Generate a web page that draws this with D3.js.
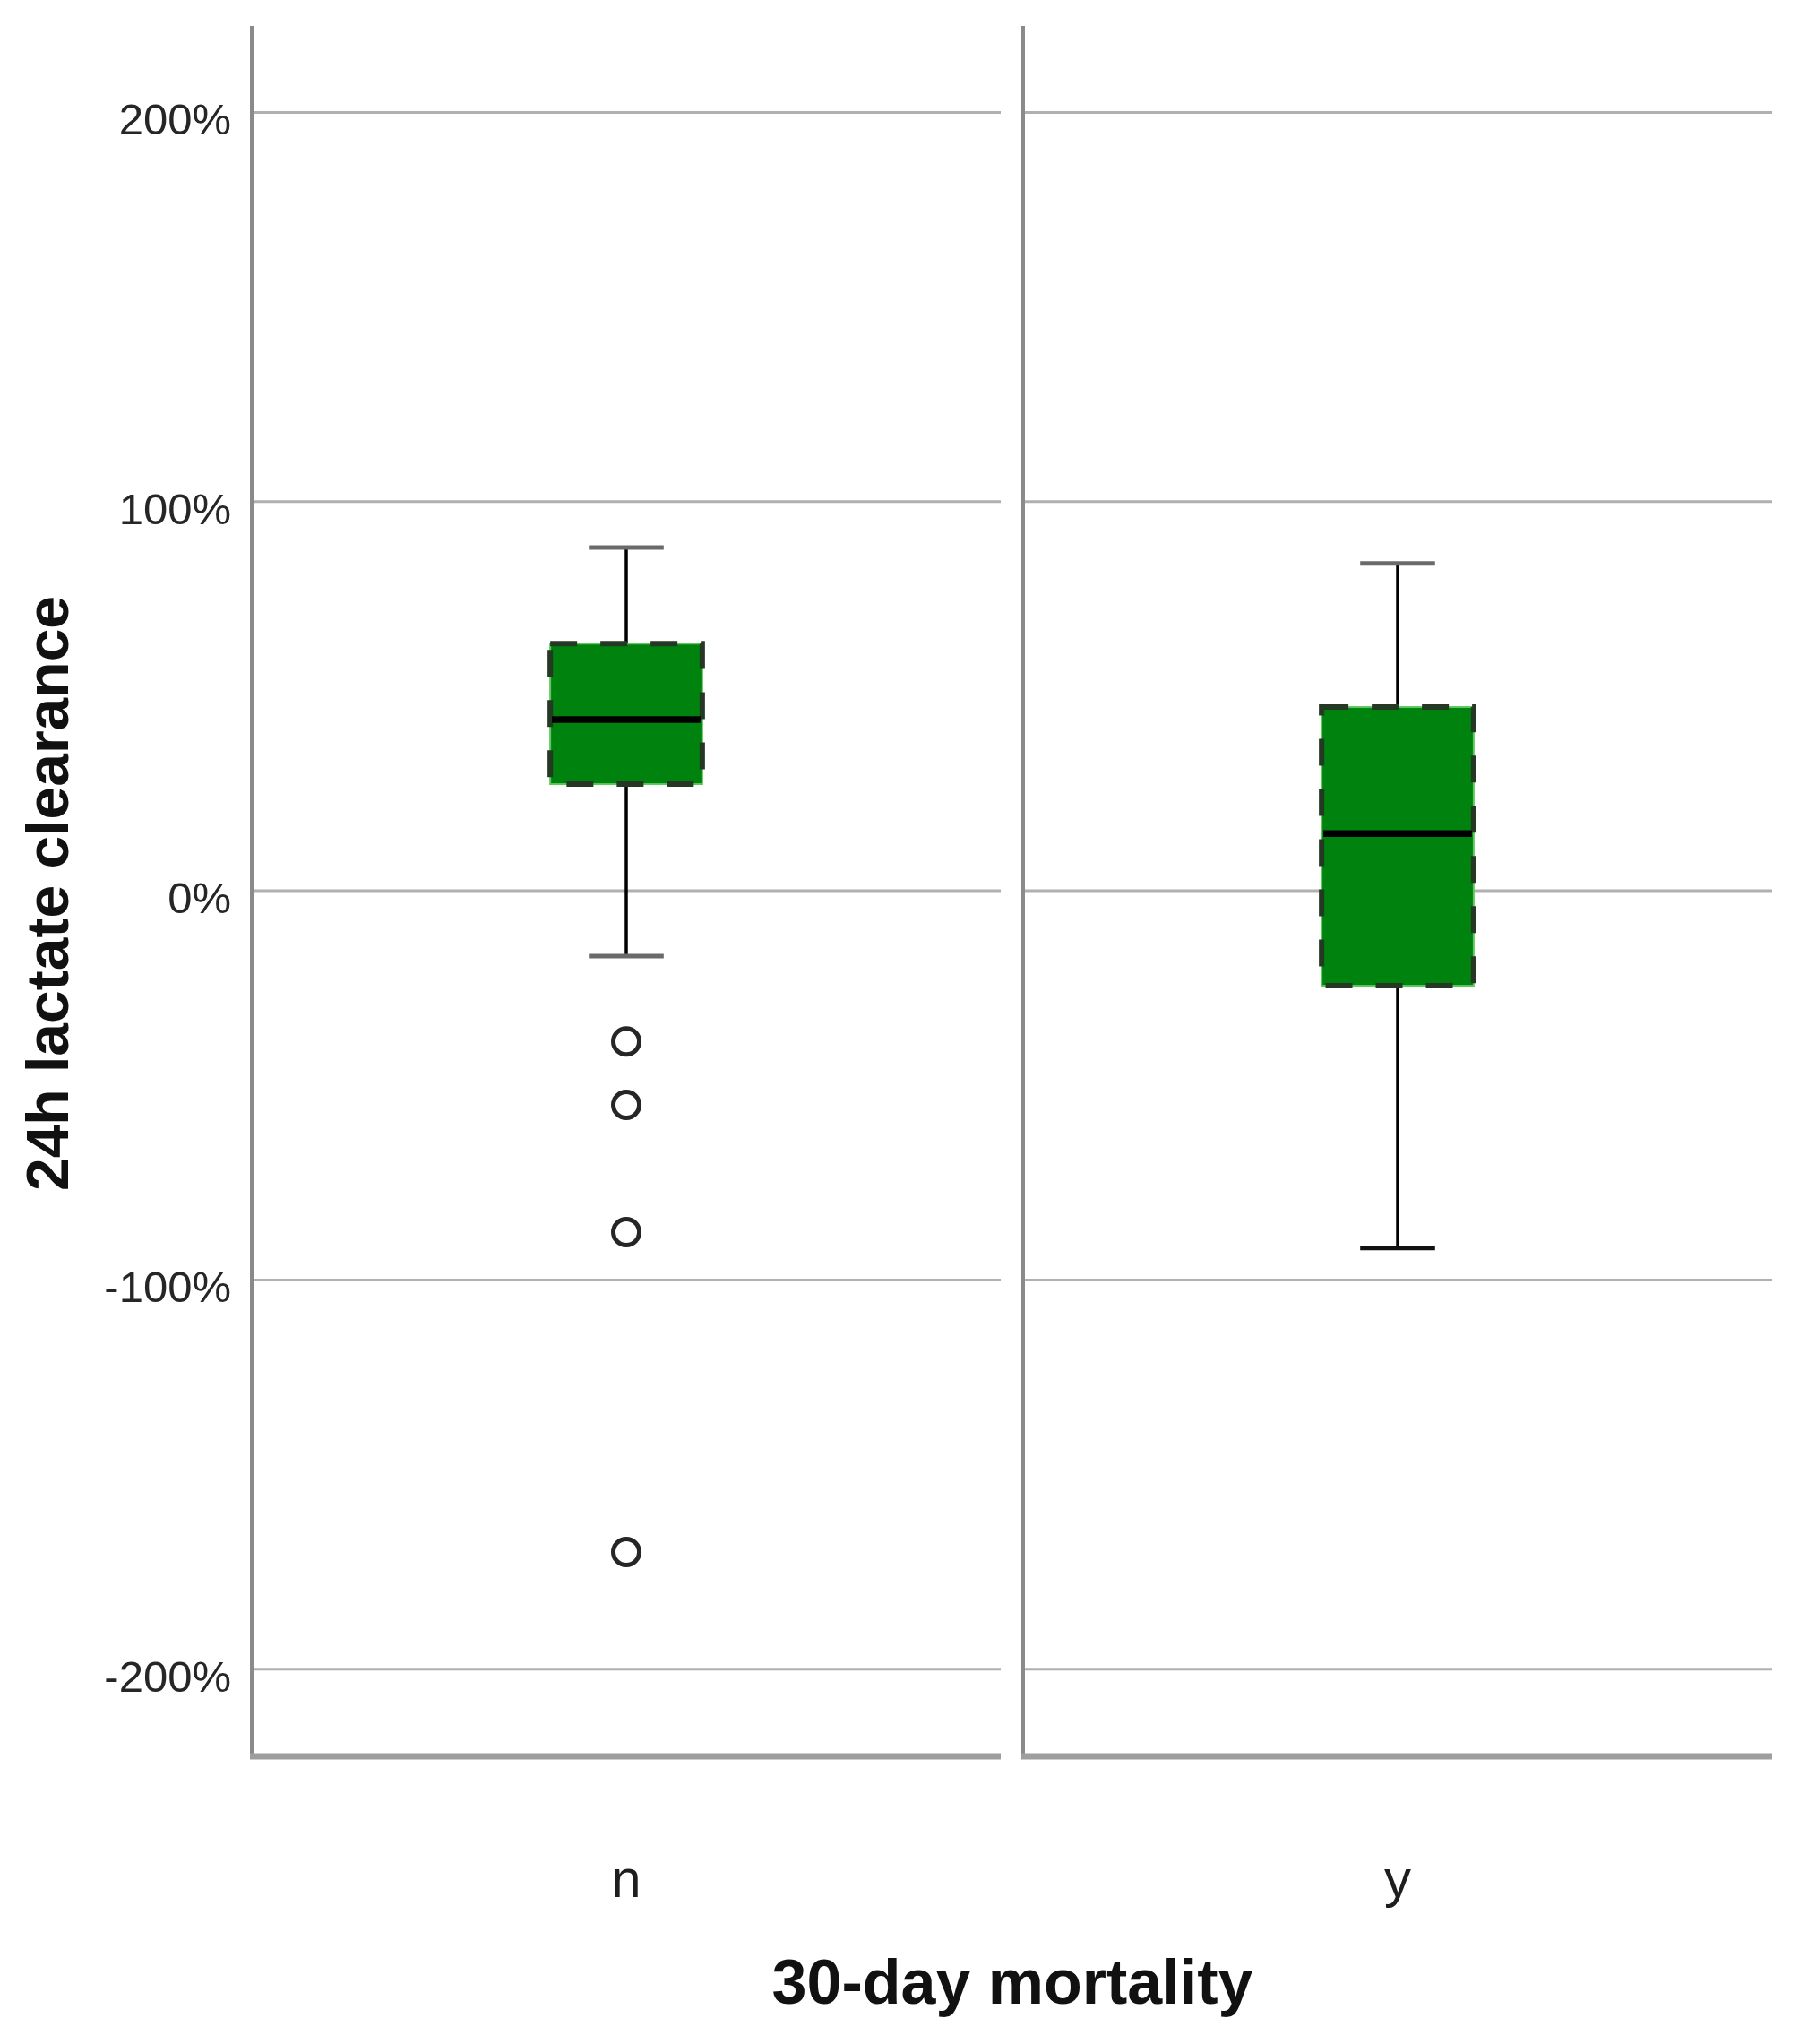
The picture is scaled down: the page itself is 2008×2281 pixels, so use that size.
<!DOCTYPE html>
<html>
<head>
<meta charset="utf-8">
<script src="https://cdn.jsdelivr.net/npm/d3@7"></script>
<style>
  body { margin: 0; background: #fff; }
  text { font-family: "Liberation Sans", Arial, sans-serif; }
</style>
</head>
<body>
<div id="container"></div>
<script>
// data (fractions, 1 = 100%)
const categories = ['n', 'y']
const whiskerHigh = [0.882, 0.841]
const q3 = [0.635, 0.472]
const medians = [0.440, 0.147]
const q1 = [0.274, -0.244]
const whiskerLow = [-0.168, -0.918]
const outliersN = [-0.387, -0.550, -0.877, -1.699]
const yTicks = [-2, -1, 0, 1, 2]

const w = 2008
const h = 2281

const svg = d3.select('#container')
  .append('svg')
  .attr('width', w)
  .attr('height', h)

svg.append('rect').attr('width', w).attr('height', h).attr('fill', '#fff')

//scales
const y = d3.scaleLinear()
  .domain([-2.224, 2.222])
  .range([1960, 29])

const x = d3.scaleBand()
  .domain(categories)
  .range([281, 1978])
  .paddingInner(0.029)
  .paddingOuter(0)

const bw = x.bandwidth()
const boxW = bw * 0.203
const capW = bw * 0.1

// panels: gridlines, left line, bottom line
const panels = svg.selectAll('g.panel')
  .data(categories)
  .enter()
  .append('g')
  .attr('class', 'panel')
  .attr('transform', d => `translate(${x(d)},0)`)

panels.selectAll('line.grid')
  .data(yTicks)
  .enter()
  .append('line')
  .attr('class', 'grid')
  .attr('x1', 0)
  .attr('x2', bw)
  .attr('y1', d => y(d))
  .attr('y2', d => y(d))
  .attr('stroke', '#b0b0b0')
  .attr('stroke-width', 3)

panels.append('line')
  .attr('x1', 0).attr('x2', 0)
  .attr('y1', y.range()[1]).attr('y2', y.range()[0])
  .attr('stroke', '#8a8a8a')
  .attr('stroke-width', 4)

panels.append('line')
  .attr('x1', -2).attr('x2', bw)
  .attr('y1', y.range()[0]).attr('y2', y.range()[0])
  .attr('stroke', '#9e9e9e')
  .attr('stroke-width', 7)

// y axis labels
const yAxis = d3.axisLeft(y)
  .tickValues(yTicks)
  .tickSize(0)
  .tickPadding(23)
  .tickFormat(d => Math.round(d * 100) + '%')

const ax = svg.append('g')
  .attr('transform', `translate(${x.range()[0]},0)`)
  .call(yAxis)
ax.select('.domain').remove()
ax.selectAll('text')
  .attr('font-size', 49)
  .attr('fill', '#262626')
  .attr('dy', '0.5em')
  .style('font-family', '"Liberation Sans", Arial, sans-serif')

// boxes
const boxes = categories.map((c, i) => ({
  cat: c,
  hi: whiskerHigh[i],
  q3: q3[i],
  med: medians[i],
  q1: q1[i],
  lo: whiskerLow[i]
}))

const bx = svg.selectAll('g.box')
  .data(boxes)
  .enter()
  .append('g')
  .attr('class', 'box')
  .attr('transform', d => `translate(${x(d.cat) + bw / 2},0)`)

// whisker stems
bx.append('line')
  .attr('x1', 0).attr('x2', 0)
  .attr('y1', d => y(d.hi)).attr('y2', d => y(d.q3))
  .attr('stroke', '#000').attr('stroke-width', 3.5)
bx.append('line')
  .attr('x1', 0).attr('x2', 0)
  .attr('y1', d => y(d.q1)).attr('y2', d => y(d.lo))
  .attr('stroke', '#000').attr('stroke-width', 3.5)

// caps
bx.append('line')
  .attr('x1', -capW / 2).attr('x2', capW / 2)
  .attr('y1', d => y(d.hi)).attr('y2', d => y(d.hi))
  .attr('stroke', '#6a6a6a').attr('stroke-width', 5)
bx.append('line')
  .attr('x1', -capW / 2).attr('x2', capW / 2)
  .attr('y1', d => y(d.lo)).attr('y2', d => y(d.lo))
  .attr('stroke', (d, i) => i === 0 ? '#6a6a6a' : '#111').attr('stroke-width', 5)

// box body
bx.append('rect')
  .attr('x', -boxW / 2)
  .attr('width', boxW)
  .attr('y', d => y(d.q3))
  .attr('height', d => y(d.q1) - y(d.q3))
  .attr('fill', '#00820f')
  .attr('stroke', '#5cc85c')
  .attr('stroke-width', 2)

bx.append('rect')
  .attr('x', -boxW / 2)
  .attr('width', boxW)
  .attr('y', d => y(d.q3))
  .attr('height', d => y(d.q1) - y(d.q3))
  .attr('fill', 'none')
  .attr('stroke', '#243824')
  .attr('stroke-width', 6)
  .attr('stroke-dasharray', '30,26')

// median
bx.append('line')
  .attr('x1', -boxW / 2 + 2).attr('x2', boxW / 2 - 2)
  .attr('y1', d => y(d.med)).attr('y2', d => y(d.med))
  .attr('stroke', '#000').attr('stroke-width', 7.5)

// outliers
svg.selectAll('circle.outlier')
  .data(outliersN)
  .enter()
  .append('circle')
  .attr('class', 'outlier')
  .attr('cx', x('n') + bw / 2)
  .attr('cy', d => y(d))
  .attr('r', 14.5)
  .attr('fill', 'none')
  .attr('stroke', '#262626')
  .attr('stroke-width', 5)

// category labels
svg.selectAll('text.cat')
  .data(categories)
  .enter()
  .append('text')
  .attr('class', 'cat')
  .attr('x', d => x(d) + bw / 2)
  .attr('y', 2117)
  .attr('text-anchor', 'middle')
  .attr('font-size', 60)
  .attr('fill', '#1e1e1e')
  .text(d => d)

// axis titles
svg.append('text')
  .attr('x', 1130)
  .attr('y', 2236)
  .attr('text-anchor', 'middle')
  .attr('font-size', 70)
  .attr('font-weight', 'bold')
  .attr('fill', '#111')
  .text('30-day mortality')

svg.append('text')
  .attr('transform', 'translate(76,997) rotate(-90)')
  .attr('text-anchor', 'middle')
  .attr('font-size', 66)
  .attr('font-weight', 'bold')
  .attr('fill', '#111')
  .text('24h lactate clearance')
</script>
</body>
</html>
